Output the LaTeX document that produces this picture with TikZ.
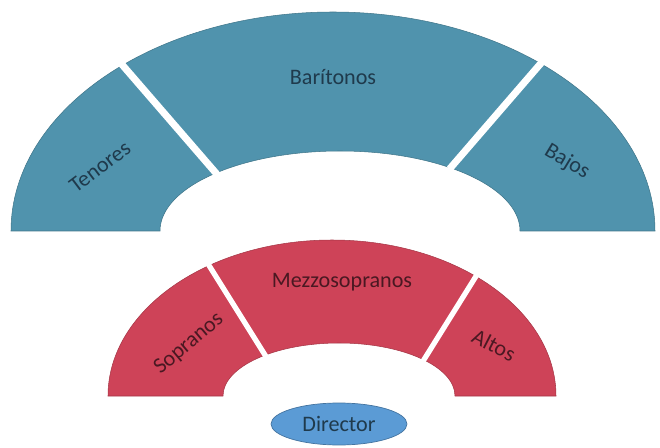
\documentclass[tikz,border=0pt]{standalone}
\usepackage{fontspec}
\setmainfont{Carlito}
\usetikzlibrary{shapes.geometric}

\definecolor{mencolor}{HTML}{5093AD}
\definecolor{womencolor}{HTML}{CE4358}
\definecolor{dircolor}{HTML}{5B9BD5}
\definecolor{mentext}{HTML}{1F3A4C}
\definecolor{womentext}{HTML}{4A1822}

\tikzset{
  gapline/.style={white,line width=#1,shorten >=-3pt,shorten <=-3pt},
  menlabel/.style={text=mentext,font=\fontsize{12.6}{14}\selectfont},
  womenlabel/.style={text=womentext,font=\fontsize{12.6}{14}\selectfont},
}

\begin{document}
\begin{tikzpicture}[x=0.02cm,y=0.02cm]
	\useasboundingbox (0,0) rectangle (660,447);

	% voces de hombre
	\filldraw[fill=mencolor,draw=mencolor!80!black,line width=0.3pt]
		(11,216) arc[start angle=180,end angle=0,x radius=322,y radius=219]
		-- (520,216) arc[start angle=0,end angle=180,x radius=180,y radius=80] -- cycle;
	\coordinate (tenbar-out) at (125,379);
	\coordinate (tenbar-in) at (215,275);
	\coordinate (barbaj-out) at (542,385);
	\coordinate (barbaj-in) at (453,282);
	\draw[gapline=4pt] (tenbar-out) -- (tenbar-in);
	\draw[gapline=4pt] (barbaj-out) -- (barbaj-in);
	\node[menlabel,rotate=37] (tenores) at (100,280) {Tenores};
	\node[menlabel] (baritonos) at (333,370) {Barítonos};
	\node[menlabel,rotate=-31] (bajos) at (567,285) {Bajos};

	% voces de mujer
	\filldraw[fill=womencolor,draw=womencolor!80!black,line width=0.3pt]
		(108,51) arc[start angle=180,end angle=0,x radius=224,y radius=156]
		-- (455,51) arc[start angle=0,end angle=180,x radius=116,y radius=53] -- cycle;
	\coordinate (sopmez-out) at (210,180);
	\coordinate (sopmez-in) at (265,92);
	\coordinate (mezalt-out) at (478,174);
	\coordinate (mezalt-in) at (425,89);
	\draw[gapline=3pt] (sopmez-out) -- (sopmez-in);
	\draw[gapline=3pt] (mezalt-out) -- (mezalt-in);
	\node[womenlabel,rotate=40] (sopranos) at (189,103) {Sopranos};
	\node[womenlabel] (mezzos) at (342,165) {Mezzosopranos};
	\node[womenlabel,rotate=-27] (altos) at (494,102) {Altos};

	% director
	\node[ellipse,fill=dircolor,draw=dircolor!75!black,line width=0.4pt,
		minimum width=2.72cm,minimum height=0.84cm,inner sep=0pt,
		text=mentext,font=\fontsize{12.6}{14}\selectfont] (director) at (339,23) {Director};
\end{tikzpicture}
\end{document}
